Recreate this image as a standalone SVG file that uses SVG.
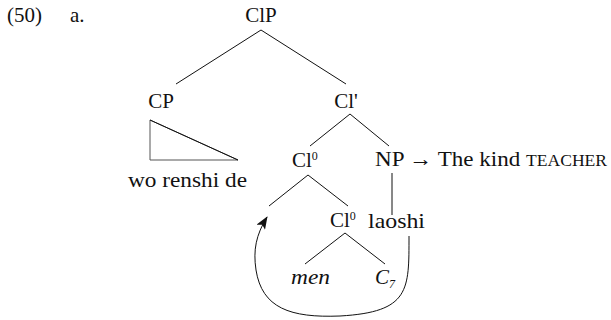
<svg xmlns="http://www.w3.org/2000/svg" width="611" height="320" viewBox="0 0 611 320" font-family="Liberation Serif" font-size="21">
<style>
text{fill:#111}
.it{font-style:italic}
.sup{font-size:12px}
.sc{font-size:16px}
line,path,polygon{stroke:#111;stroke-width:1;fill:none}
</style>
<defs>
<marker id="ah" viewBox="0 0 13 10" refX="12" refY="5" markerWidth="13" markerHeight="10" markerUnits="userSpaceOnUse" orient="auto">
<path d="M0,0 L13,5 L0,10 L3,5 Z" style="fill:#111;stroke:none"/>
</marker>
</defs>
<g id="label">
<text x="7" y="22">(50)</text>
<text x="70" y="22">a.</text>
</g>
<g id="ClP"><text x="261" y="22" text-anchor="middle">ClP</text></g>
<g id="CP"><text x="161" y="108" text-anchor="middle">CP</text>
<polygon points="150,120 150,160 238,160" style="stroke:#555"/>
<line x1="150" y1="120" x2="238" y2="160"/>
<text x="128" y="187" textLength="119" lengthAdjust="spacingAndGlyphs">wo renshi de</text></g>
<g id="Clbar"><text x="346" y="108" text-anchor="middle">Cl'</text></g>
<g id="Cl0a"><text x="292" y="167">Cl<tspan class="sup" dy="-7">0</tspan></text></g>
<g id="NP"><text x="375" y="166" textLength="232" lengthAdjust="spacingAndGlyphs">NP → The kind <tspan class="sc">TEACHER</tspan></text></g>
<g id="Cl0b"><text x="330" y="227">Cl<tspan class="sup" dy="-7">0</tspan></text></g>
<g id="laoshi"><text x="368" y="228" textLength="57" lengthAdjust="spacingAndGlyphs">laoshi</text></g>
<g id="men"><text x="291" y="284" class="it" textLength="39" lengthAdjust="spacingAndGlyphs">men</text></g>
<g id="C7"><text x="375" y="284" class="it">C<tspan class="sup" dy="4">7</tspan></text></g>
<g id="connectors">
<line x1="261" y1="30" x2="176" y2="84"/>
<line x1="261" y1="30" x2="346" y2="84"/>
<line x1="350" y1="114" x2="310" y2="146"/>
<line x1="350" y1="114" x2="389" y2="146"/>
<line x1="308" y1="175" x2="269" y2="206"/>
<line x1="308" y1="175" x2="348" y2="206"/>
<line x1="392" y1="173" x2="392" y2="215"/>
<line x1="345" y1="233" x2="305" y2="264"/>
<line x1="345" y1="233" x2="385" y2="264"/>
<path d="M409,236 C409,290 410,312 340,316 C290,318 262,308 256,270 C253,250 256,235 267,217" marker-end="url(#ah)"/>
</g>
</svg>
